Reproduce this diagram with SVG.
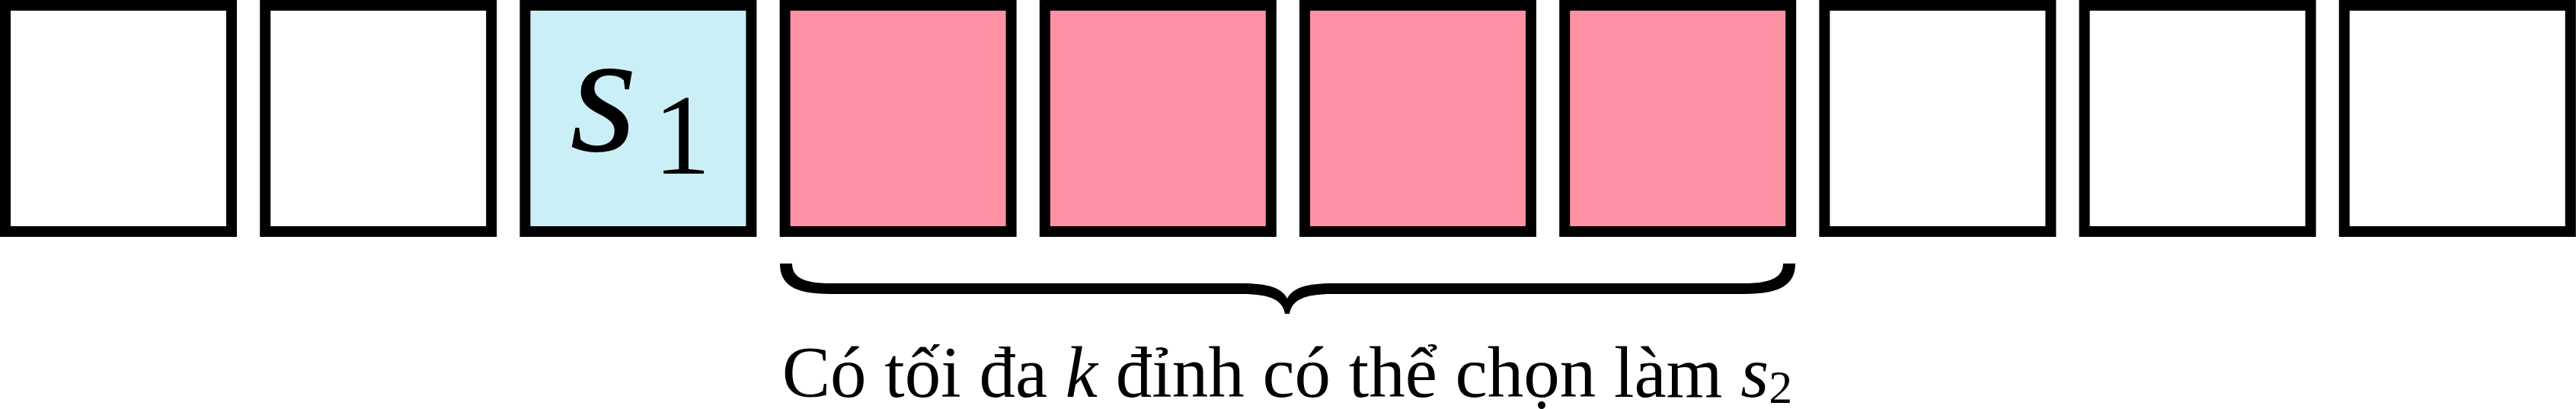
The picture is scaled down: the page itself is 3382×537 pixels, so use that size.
<svg xmlns="http://www.w3.org/2000/svg" width="3382" height="537" viewBox="0 0 3382 537">
<style>
.cell{stroke:#000;stroke-width:14}
.w{fill:#fff}
.c{fill:#CBEFF6}
.p{fill:#FF91A4}
</style>
<rect width="3382" height="537" fill="#fff"/>
<g id="cell1"><rect class="cell w" x="7" y="7" width="297" height="297"/></g>
<g id="cell2"><rect class="cell w" x="348.2" y="7" width="297" height="297"/></g>
<g id="cell3"><rect class="cell c" x="689.4" y="7" width="297" height="297"/>
<text x="748" y="198" font-family="Liberation Serif, DejaVu Serif, serif" font-size="228" font-style="italic" fill="#000">s</text>
<text x="858" y="228" font-family="Liberation Serif, DejaVu Serif, serif" font-size="150" fill="#000">1</text></g>
<g id="cell4"><rect class="cell p" x="1030.6" y="7" width="297" height="297"/></g>
<g id="cell5"><rect class="cell p" x="1371.8" y="7" width="297" height="297"/></g>
<g id="cell6"><rect class="cell p" x="1713" y="7" width="297" height="297"/></g>
<g id="cell7"><rect class="cell p" x="2054.2" y="7" width="297" height="297"/></g>
<g id="cell8"><rect class="cell w" x="2395.4" y="7" width="297" height="297"/></g>
<g id="cell9"><rect class="cell w" x="2736.6" y="7" width="297" height="297"/></g>
<g id="cell10"><rect class="cell w" x="3077.8" y="7" width="297" height="297"/></g>
<g id="connectors">
<path id="brace" fill="#000" d="M1024,346 C1024,372 1040,386 1090,386 L1630,386 C1670,386 1684,395 1687,412 L1693,412 C1696,395 1710,386 1750,386 L2290,386 C2340,386 2357,372 2357,346 L2341,346 C2341,364 2325,372 2290,372 L1750,372 C1715,372 1697,378 1690,392 C1683,378 1665,372 1630,372 L1090,372 C1055,372 1040,364 1040,346 Z"/>
</g>
<g id="label">
<text x="1690" y="521" font-family="Liberation Serif, DejaVu Serif, serif" font-size="95" text-anchor="middle" fill="#000">Có tối đa <tspan font-style="italic">k</tspan> đỉnh có thể chọn làm <tspan font-style="italic">s</tspan><tspan font-size="62" dy="8">2</tspan></text>
</g>
</svg>
